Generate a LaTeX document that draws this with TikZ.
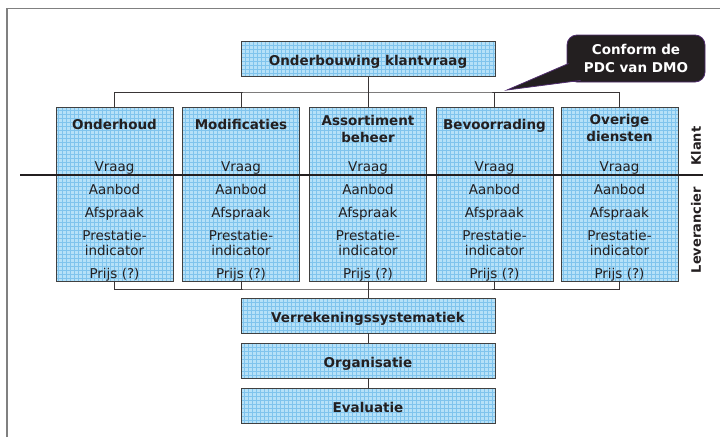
\documentclass[tikz,border=0pt]{standalone}
\usepackage{fontspec}
\setmainfont{DejaVu Sans}
\usepackage{tikz}
\definecolor{boxblue}{RGB}{182,225,248}
\definecolor{gridblue}{RGB}{128,196,237}
\definecolor{boxline}{RGB}{64,64,64}
\definecolor{ink}{RGB}{35,31,32}
\definecolor{framegray}{RGB}{128,128,128}
\definecolor{calloutedge}{RGB}{80,45,110}
\tikzset{t/.style={font=\fontsize{13.5}{15}\selectfont, text=ink}}
\tikzset{b/.style={font=\fontsize{13.5}{17}\selectfont\bfseries, text=ink}}
\tikzset{raster/.style={fill=boxblue, path picture={\draw[gridblue, line width=0.45pt, step=4pt] (path picture bounding box.south west) grid (path picture bounding box.north east);}}}
\tikzset{kolom/.style={raster, draw=boxline, line width=0.8pt, inner sep=0pt, minimum width=117pt, minimum height=174pt}}
\tikzset{balk/.style={raster, b, draw=boxline, line width=0.8pt, inner sep=0pt, minimum width=254pt, minimum height=35pt, text height=13.4pt, text depth=0pt}}
\tikzset{kop/.style={b, align=center, anchor=north, inner sep=0pt}}
\tikzset{reeks/.style={t, align=center, anchor=north, inner sep=0pt}}
\tikzset{bus/.style={draw=ink!90, line width=1pt}}

\begin{document}
\begin{tikzpicture}[x=1pt, y=1pt]
  \useasboundingbox (0,0) rectangle (720,-437);
  \draw[framegray, line width=1.4pt] (7,-437) -- (7,-8.5) -- (720,-8.5);

  \node[balk] (Onderbouwing) at (368,-59) {Onderbouwing klantvraag};

  \node[kolom] (Onderhoud) at (114.5,-194) {};
  \node[kop] (OnderhoudT) at (114.5,-118.7) {Onderhoud};
  \node[reeks] (OnderhoudV) at (114.5,-161) {Vraag\\[8pt]Aanbod\\[8pt]Afspraak\\[8pt]Prestatie-\\indicator\\[8pt]Prijs (?)};

  \node[kolom] (Modificaties) at (241,-194) {};
  \node[kop] (ModificatiesT) at (241,-118.7) {Modificaties};
  \node[reeks] (ModificatiesV) at (241,-161) {Vraag\\[8pt]Aanbod\\[8pt]Afspraak\\[8pt]Prestatie-\\indicator\\[8pt]Prijs (?)};

  \node[kolom] (Assortiment) at (368,-194) {};
  \node[kop] (AssortimentT) at (368,-115.2) {Assortiment\\beheer};
  \node[reeks] (AssortimentV) at (368,-161) {Vraag\\[8pt]Aanbod\\[8pt]Afspraak\\[8pt]Prestatie-\\indicator\\[8pt]Prijs (?)};

  \node[kolom] (Bevoorrading) at (494.5,-194) {};
  \node[kop] (BevoorradingT) at (494.5,-118.7) {Bevoorrading};
  \node[reeks] (BevoorradingV) at (494.5,-161) {Vraag\\[8pt]Aanbod\\[8pt]Afspraak\\[8pt]Prestatie-\\indicator\\[8pt]Prijs (?)};

  \node[kolom] (Overige) at (619.5,-194) {};
  \node[kop] (OverigeT) at (619.5,-114.4) {Overige\\diensten};
  \node[reeks] (OverigeV) at (619.5,-161) {Vraag\\[8pt]Aanbod\\[8pt]Afspraak\\[8pt]Prestatie-\\indicator\\[8pt]Prijs (?)};

  \node[balk] (Verrekening) at (368,-315.5) {Verrekeningssystematiek};
  \node[balk] (Organisatie) at (368,-360.5) {Organisatie};
  \node[balk] (Evaluatie) at (368,-405.5) {Evaluatie};

  \node[b, font=\fontsize{13}{13}\selectfont\bfseries, rotate=90] (Klant) at (696,-146) {Klant};
  \node[b, font=\fontsize{13}{13}\selectfont\bfseries, rotate=90] (Leverancier) at (696,-230) {Leverancier};

  \coordinate (boven) at (368,-92);
  \coordinate (onder) at (368,-289);
  \draw[bus] (Onderhoud.north) |- (boven) -| (Overige.north);
  \draw[bus] (Onderbouwing.south) -- (Assortiment.north);
  \draw[bus] (Modificaties.north) -- (Modificaties.north |- boven);
  \draw[bus] (Bevoorrading.north) -- (Bevoorrading.north |- boven);
  \draw[bus] (Onderhoud.south) |- (onder) -| (Overige.south);
  \draw[bus] (Assortiment.south) -- (Verrekening.north);
  \draw[bus] (Modificaties.south) -- (Modificaties.south |- onder);
  \draw[bus] (Bevoorrading.south) -- (Bevoorrading.south |- onder);
  \draw[bus, line width=0.7pt] (Verrekening) -- (Organisatie);
  \draw[bus, line width=0.7pt] (Organisatie) -- (Evaluatie);

  \coordinate (links) at (20,-175);
  \coordinate (rechts) at (703,-175);
  \draw[ink, line width=2.2pt] (links) -- (rechts);

  \coordinate (punt) at (507,-90);
  \node[rounded corners=10pt, fill=ink, draw=calloutedge, line width=0.8pt, text=white, font=\fontsize{13.5}{17.5}\selectfont\bfseries, align=center, minimum width=138pt, minimum height=47pt, inner sep=0pt] (PDC) at (636,-58.5) {Conform de\\PDC van DMO};
  \filldraw[fill=ink, draw=calloutedge, line width=0.8pt] ([shift={(2pt,-5pt)}]PDC.west) -- (punt) -- ([shift={(14pt,2pt)}]PDC.south west);
\end{tikzpicture}
\end{document}
